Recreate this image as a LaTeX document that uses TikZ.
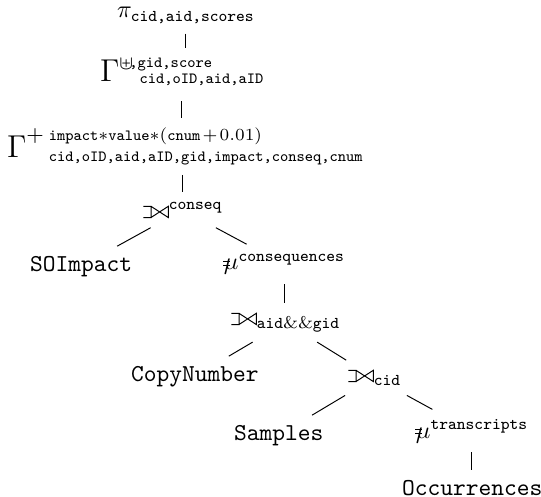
\RequirePackage{fix-cm}
\documentclass[tikz,border=0pt]{standalone}
\newcommand{\scra}{\fontsize{6.4}{7}\selectfont\ttfamily}
\newcommand{\scrb}{\fontsize{6.8}{8}\selectfont\ttfamily}
\newcommand{\tb}[1]{\mbox{\scrb #1}}
\newcommand{\lj}{\mathbin{\tikz[baseline=0pt,x=1pt,y=1pt,line width=0.4pt]{\draw (0,0.2)--(3.1,0.2)--(3.1,4.8)--(0,4.8) (3.1,0.2)--(10.2,4.8)--(10.2,0.2)--(3.1,4.8);}}}
\newcommand{\unn}{\mathord{\rlap{\rule[1.5pt]{2.9pt}{0.4pt}}\rlap{\rule[3.2pt]{2.9pt}{0.4pt}}\kern0.4pt\mu}}
\begin{document}
\begin{tikzpicture}[x=0.4115pt,y=-0.4115pt,
  lbl/.style={anchor=text,inner sep=4pt,outer sep=0pt},
  edge/.style={draw=black,line width=0.4pt}]
\useasboundingbox (0,0) rectangle (541,497);
\node[lbl] (pi) at (117,18) {$\pi_{\tb{cid,aid,scores}}$};
\node[lbl] (g1) at (100,82) {{\fontsize{13}{15}\selectfont$\Gamma$}\rlap{\raisebox{5.2pt}{\fontsize{8}{9}\selectfont$\uplus$}\raisebox{6pt}{\scra\kern-1.5pt,gid,score}}\hspace{8.3pt}\raisebox{-0.5pt}{\scra cid,oID,aid,aID}};
\node[lbl] (g2) at (7,158) {{\fontsize{13}{15}\selectfont$\Gamma$}\raisebox{6.6pt}{\fontsize{9}{10}\selectfont$+$}\hspace{2.1pt}\rlap{\raisebox{7.4pt}{$\scriptstyle\mbox{\scra impact}\ast\mbox{\scra value}\ast(\mbox{\scra cnum}\mkern2mu+\mkern2mu0.01)$}}\raisebox{-1.5pt}{\scra cid,oID,aid,aID,gid,impact,conseq,cnum}};
\node[lbl] (j1) at (143,218) {$\lj^{\tb{conseq}}$};
\node[lbl] (soi) at (30,271) {\texttt{SOImpact}};
\node[lbl] (mu1) at (223,270) {$\unn^{\tb{consequences}}$};
\node[lbl] (j2) at (231,325) {$\lj_{\tb{aid}\&\&\tb{gid}}$};
\node[lbl] (cn) at (131,381) {\texttt{CopyNumber}};
\node[lbl] (j3) at (348,382) {$\lj_{\tb{cid}}$};
\node[lbl] (sam) at (234,440) {\texttt{Samples}};
\node[lbl] (mu2) at (415,438) {$\unn^{\tb{transcripts}}$};
\node[lbl] (occ) at (402,495) {\texttt{Occurrences}};
\draw[edge] (pi.south) -- (pi.south |- g1.north);
\draw[edge,shorten <=2.5pt] (g1.south) -- (g1.south |- g2.north);
\draw[edge] (j1.north |- g2.south) -- (j1.north);
\draw[edge] (j1) -- (soi);
\draw[edge] (j1) -- (mu1);
\draw[edge] (mu1.south) -- (mu1.south |- j2.north);
\draw[edge] (j2) -- (cn);
\draw[edge] (j2) -- (j3);
\draw[edge] (j3) -- (sam);
\draw[edge] (j3) -- (mu2);
\draw[edge] (mu2.south) -- (mu2.south |- occ.north);
\end{tikzpicture}
\end{document}
